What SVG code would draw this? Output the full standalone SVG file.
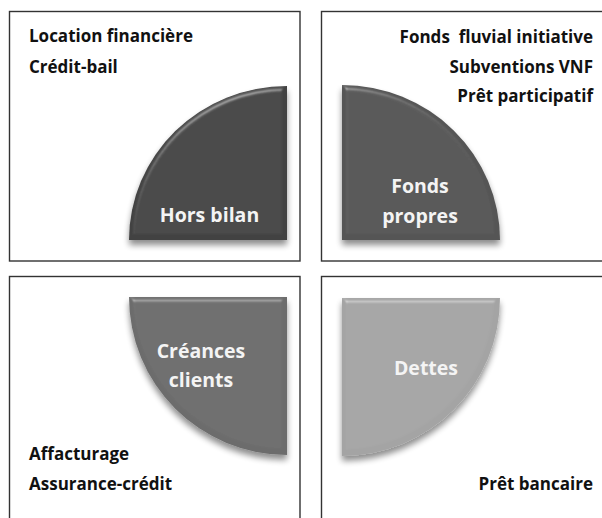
<svg xmlns="http://www.w3.org/2000/svg" width="602" height="518" viewBox="0 0 602 518">
  <defs>
    <style>
      .box { fill: #ffffff; stroke: #333333; stroke-width: 1.4; }
      .txt { font-family: "Open Sans", Lato, "Liberation Sans", sans-serif; font-weight: bold; font-size: 17px; fill: #111111; }
      .lbl { font-family: "Open Sans", Lato, "Liberation Sans", sans-serif; font-weight: bold; font-size: 19.5px; fill: #f4f4f4; text-anchor: middle; }
      .end { text-anchor: end; }
    </style>
    <filter id="bevel" x="-10%" y="-10%" width="125%" height="125%">
      <feGaussianBlur in="SourceAlpha" stdDeviation="2.5" result="blur"/>
      <feSpecularLighting in="blur" surfaceScale="4" specularConstant="0.6" specularExponent="25" lighting-color="#ffffff" result="spec">
        <feDistantLight azimuth="250" elevation="35"/>
      </feSpecularLighting>
      <feComposite in="spec" in2="SourceAlpha" operator="in" result="specIn"/>
      <feComposite in="SourceGraphic" in2="specIn" operator="arithmetic" k1="0" k2="1" k3="0.4" k4="0" result="lit"/>
      <feOffset in="SourceAlpha" dx="0" dy="5" result="off"/>
      <feGaussianBlur in="off" stdDeviation="3" result="offBlur"/>
      <feComponentTransfer in="offBlur" result="shadow">
        <feFuncA type="linear" slope="0.45"/>
      </feComponentTransfer>
      <feMerge>
        <feMergeNode in="shadow"/>
        <feMergeNode in="lit"/>
      </feMerge>
    </filter>
  </defs>

  <g id="quadrant-hors-bilan">
    <rect class="box" x="9.5" y="11.5" width="290.5" height="249.5"/>
    <text class="txt" x="29" y="42">Location financière</text>
    <text class="txt" x="29" y="73">Crédit-bail</text>
    <path d="M287,86 L287,240 L129,240 A158,154 0 0 1 287,86 Z" fill="#434343" filter="url(#bevel)"/>
    <text class="lbl" x="209.5" y="222">Hors bilan</text>
  </g>

  <g id="quadrant-fonds-propres">
    <rect class="box" x="321.5" y="11.5" width="290" height="249.5"/>
    <text class="txt end" x="593" y="43" xml:space="preserve">Fonds  fluvial initiative</text>
    <text class="txt end" x="593" y="73">Subventions VNF</text>
    <text class="txt end" x="593" y="102">Prêt participatif</text>
    <path d="M342,85 A158,155 0 0 1 500,240 L342,240 Z" fill="#555555" filter="url(#bevel)"/>
    <text class="lbl" x="420" y="193" fill="#e8e8e8">Fonds</text>
    <text class="lbl" x="420" y="223">propres</text>
  </g>

  <g id="quadrant-creances-clients">
    <rect class="box" x="9.5" y="276.5" width="290.5" height="260"/>
    <path d="M129,297 L287,297 L287,455 A158,158 0 0 1 129,297 Z" fill="#6c6c6c" filter="url(#bevel)"/>
    <text class="lbl" x="201" y="358">Créances</text>
    <text class="lbl" x="201" y="387">clients</text>
    <text class="txt" x="29" y="460">Affacturage</text>
    <text class="txt" x="29" y="490">Assurance-crédit</text>
  </g>

  <g id="quadrant-dettes">
    <rect class="box" x="321.5" y="276.5" width="290" height="260"/>
    <path d="M342,298 L500,298 A158,158 0 0 1 342,456 Z" fill="#a4a4a4" filter="url(#bevel)"/>
    <text class="lbl" x="426" y="375">Dettes</text>
    <text class="txt end" x="593" y="490">Prêt bancaire</text>
  </g>

  <g id="connectors"/>
</svg>
